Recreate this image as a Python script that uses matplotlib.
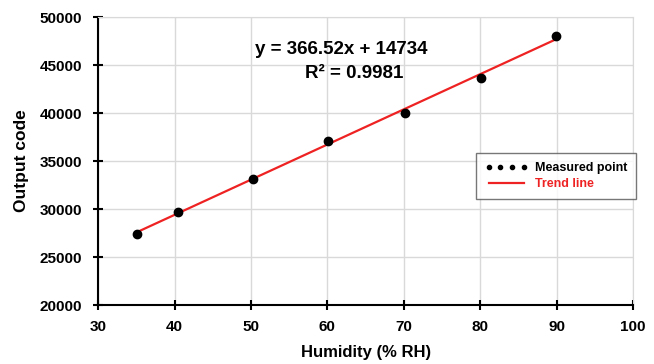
import matplotlib as mpl

mpl.use("Agg")
import matplotlib.pyplot as plt
import numpy as np

plt.rcParams["font.family"] = ["Liberation Sans", "DejaVu Sans"]
plt.rcParams["font.weight"] = "bold"

# Measured points
humidity = [35.1, 40.5, 50.3, 60.1, 70.2, 80.1, 89.9]
output_code = [27450, 29700, 33150, 37050, 40050, 43650, 48050]

# Fitted trend line coefficients
slope = 366.52
intercept = 14734

x_ticks = [30, 40, 50, 60, 70, 80, 90, 100]
y_ticks = [20000, 25000, 30000, 35000, 40000, 45000, 50000]

fig = plt.figure(figsize=(6.54, 3.64), dpi=100)
ax = fig.add_axes([0.150, 0.162, 0.818, 0.791])

xs = np.array([min(humidity), max(humidity)])
ax.plot(xs, slope * xs + intercept, color="#ee2222", lw=1.6, zorder=2)
ax.plot(humidity, output_code, "o", color="black", ms=6, zorder=3)

ax.set_xlim(30, 100)
ax.set_ylim(20000, 50000)
ax.set_xticks(x_ticks)
ax.set_yticks(y_ticks)
ax.grid(True, color="#d9d9d9", lw=1)
ax.set_axisbelow(True)
for side in ("top", "right"):
    ax.spines[side].set_color("#d9d9d9")
for side in ("left", "bottom"):
    ax.spines[side].set_linewidth(1.5)
ax.tick_params(axis="both", labelsize=11, width=1.5, length=7, direction="inout")
ax.tick_params(axis="x", pad=7)
ax.tick_params(axis="y", pad=8)
for lab in ax.get_xticklabels() + ax.get_yticklabels():
    lab.set_fontweight("bold")

ax.set_xlabel("Humidity (% RH)", fontsize=12, fontweight="bold", labelpad=8)
ax.set_ylabel("Output code", fontsize=12.5, fontweight="bold", labelpad=8)

ax.text(61.8, 46600, "y = 366.52x + 14734", fontsize=13.5, fontweight="bold",
        ha="center", va="center")
ax.text(63.5, 44150, "R² = 0.9981", fontsize=13.5, fontweight="bold",
        ha="center", va="center")

h_pts = mpl.lines.Line2D([], [], ls="none", marker="o", color="black", ms=3)
h_line = mpl.lines.Line2D([], [], color="#ee2222", lw=1.6)
leg = ax.legend([h_pts, h_line], ["Measured point", "Trend line"],
                loc="upper left", bbox_to_anchor=(0.7065, 0.527), numpoints=4,
                fontsize=9, frameon=True, fancybox=False, borderpad=0.7,
                handlelength=3.4, handletextpad=0.6, labelspacing=0.35,
                borderaxespad=0)
leg.get_frame().set_edgecolor("#555555")
leg.get_frame().set_linewidth(1.0)
leg.get_texts()[1].set_color("#ee2222")
for t in leg.get_texts():
    t.set_fontweight("bold")

fig.savefig("out.png", dpi=100)
